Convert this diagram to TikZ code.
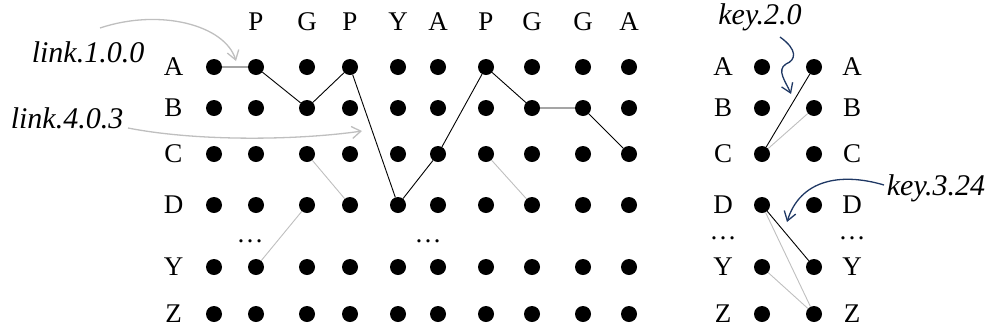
\documentclass[tikz,border=0pt]{standalone}
\usepackage{fontspec}
\setmainfont{Liberation Serif}
\usetikzlibrary{arrows.meta}
\definecolor{lgray}{HTML}{BFBFBF}
\definecolor{navy}{HTML}{1F3864}
\begin{document}
\begin{tikzpicture}[x=1pt,y=-1pt,
  dot/.style={circle,fill=black,inner sep=0pt,minimum size=16pt},
  lbl/.style={font=\fontsize{27}{27}\selectfont,inner sep=0pt,anchor=base},
  ann/.style={font=\fontsize{30}{30}\selectfont\itshape,inner sep=0pt},
  blk/.style={draw=black,line width=0.9pt},
  gry/.style={draw=lgray,line width=0.9pt},
  garrow/.style={draw=lgray,line width=1.3pt,-{Straight Barb[length=9pt,width=12pt]}},
  narrow/.style={draw=navy,line width=1.3pt,-{Straight Barb[length=9pt,width=12pt]}}]
\useasboundingbox (0,0) rectangle (990,333);
% left grid
\foreach \x [count=\i] in {214,256,307,350,398,438,486,532,583,629}
  \foreach \r/\y in {A/67,B/108,C/154,D/205,Y/267,Z/314}
    \node[dot] (L\r\i) at (\x,\y) {};
\foreach \r/\y in {A/67,B/108,C/154,D/205,Y/267,Z/314}
  \node[lbl] (LL\r) at (173.5,\y+8.5) {\r};
\foreach \x/\t [count=\i] in {256/P,307/G,350/P,398/Y,438/A,486/P,532/G,583/G,629/A}
  \node[lbl] (H\i) at (\x,30) {\t};
\node[lbl] (ld1) at (250,242) {…};
\node[lbl] (ld2) at (428,242) {…};
% right block
\foreach \r/\y in {A/67,B/108,C/154,D/205,Y/267,Z/314}{
  \node[dot] (R\r1) at (762,\y) {};
  \node[dot] (R\r2) at (814,\y) {};
  \node[lbl] (RL\r) at (723,\y+8.5) {\r};
  \node[lbl] (RR\r) at (852,\y+8.5) {\r};
}
\node[lbl] (rd1) at (723,239) {…};
\node[lbl] (rd2) at (852,239) {…};
% black path
\draw[blk] (LA1) -- (LA2) -- (LB3) -- (LA4) -- (LD5) -- (LC6) -- (LA7) -- (LB8) -- (LB9) -- (LC10);
% gray lines
\draw[gry] (LC3) -- (LD4);
\draw[gry] (LD3) -- (LY2);
\draw[gry] (LC7) -- (LD8);
% right connections
\draw[blk] (RA2) -- (RC1);
\draw[gry] (RB2) -- (RC1);
\draw[blk] (RD1) -- (RY2);
\draw[gry] (RD1) -- (RZ2);
\draw[gry] (RY1) -- (RZ2);
% annotations
\node[ann] (k100) at (88,52) {link.1.0.0};
\node[ann] (k403) at (67,118) {link.4.0.3};
\node[ann] (k20) at (760,17) {key.2.0};
\node[ann] (k324) at (936,188) {key.3.24};
\coordinate (a1s) at (100,28);
\coordinate (a1e) at (236,61);
\coordinate (a2s) at (128,128);
\coordinate (a2e) at (362,131);
\coordinate (a3s) at (780,37);
\coordinate (a3m) at (786,64);
\coordinate (a3e) at (791,94);
\coordinate (a4s) at (884,185);
\coordinate (a4e) at (787,222);
\draw[garrow] (a1s) .. controls (160,8) and (225,25) .. (a1e);
\draw[garrow] (a2s) .. controls (200,142) and (300,140) .. (a2e);
\draw[narrow] (a3s) .. controls (798,50) and (796,60) .. (a3m) .. controls (776,70) and (786,82) .. (a3e);
\draw[narrow] (a4s) .. controls (840,172) and (800,180) .. (a4e);
\end{tikzpicture}
\end{document}
